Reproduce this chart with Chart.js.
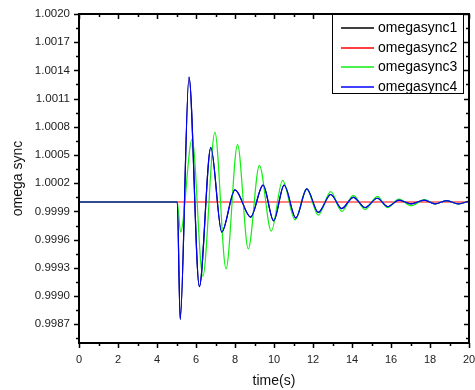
<!DOCTYPE html>
<html>
<head>
<meta charset="utf-8">
<script src="https://cdn.jsdelivr.net/npm/chart.js@4"></script>
<style>
  html, body { margin: 0; padding: 0; background: #fff; }
  #wrap { width: 475px; height: 390px; position: relative; }
</style>
</head>
<body>
<div id="wrap"><canvas id="chart"></canvas></div>
<script>
// values
const seriesNames = ['omegasync1', 'omegasync2', 'omegasync3', 'omegasync4'];
const seriesColors = ['#000000', '#ff0000', '#11ee11', '#0000ff'];

const sync4Time = [0, 5.04, 5.19, 5.64, 6.17, 6.76, 7.32, 8.0, 8.8, 9.44, 9.98, 10.52, 11.12, 11.68,
  12.27, 12.91, 13.47, 14.07, 14.67, 15.3, 15.83, 16.41, 17.03, 17.71, 18.26, 18.85, 19.45, 20];
const sync4Values = [1.0, 1.0, 0.99875, 1.00133, 0.9991, 1.00058, 0.99968, 1.00013, 0.99984, 1.00018,
  0.9998, 1.00018, 0.99983, 1.00014, 0.99989, 1.00008, 0.99993, 1.00005, 0.99994, 1.00004, 0.99995,
  1.00002, 0.99998, 1.00002, 0.99998, 1.000014, 0.99998, 1.00001];

// omegasync1 lies exactly under omegasync4
const sync1Time = sync4Time;
const sync1Values = sync4Values;

const sync2Time = [0, 20];
const sync2Values = [1.0, 1.0];

const sync3Time = [0, 5.04, 5.21, 5.8, 6.35, 6.97, 7.54, 8.13, 8.68, 9.25, 9.86, 10.44, 11.08, 11.68,
  12.27, 12.91, 13.47, 14.07, 14.67, 15.3, 15.82, 16.41, 17.03, 17.71, 18.26, 18.85, 19.45, 20];
const sync3Values = [1.0, 1.0, 0.99968, 1.00067, 0.99921, 1.00074, 0.99929, 1.00061, 0.9995, 1.00039,
  0.99969, 1.00023, 0.99981, 1.00014, 0.99986, 1.00011, 0.9999, 1.00007, 0.99992, 1.00006, 0.99994,
  1.00003, 0.99996, 1.000025, 0.99998, 1.000014, 0.99998, 1.00001];

const xMin = 0, xMax = 20;
const yMin = 0.9985, yMax = 1.002;
const yTickValues = [0.9987, 0.999, 0.9993, 0.9996, 0.9999, 1.0002, 1.0005, 1.0008, 1.0011, 1.0014, 1.0017, 1.002];

const FONT = '"Liberation Sans", Arial, sans-serif';

function toPoints(xs, ys) {
  return xs.map((x, i) => ({ x, y: ys[i] }));
}

const allTimes = [sync1Time, sync2Time, sync3Time, sync4Time];
const allValues = [sync1Values, sync2Values, sync3Values, sync4Values];

// Origin-style frame, ticks and boxed legend
const framePlugin = {
  id: 'frame',
  afterDatasetsDraw(chart) {
    const { ctx, chartArea: a, scales } = chart;
    ctx.save();
    ctx.strokeStyle = '#000';
    ctx.lineWidth = 2;
    ctx.strokeRect(a.left, a.top, a.right - a.left, a.bottom - a.top);

    ctx.lineWidth = 1.5;
    ctx.beginPath();
    scales.x.ticks.forEach(t => {
      const px = Math.round(scales.x.getPixelForValue(t.value)) + 0.5;
      const len = t.value % 2 === 0 ? 5 : 3;
      ctx.moveTo(px, a.bottom); ctx.lineTo(px, a.bottom + len);
      ctx.moveTo(px, a.top); ctx.lineTo(px, a.top + len);
    });
    const yt = scales.y.ticks.map(t => t.value);
    const minors = [yt[0] - 0.00015].concat(yt.slice(1).map((v, i) => (v + yt[i]) / 2));
    yt.forEach(v => {
      const py = Math.round(scales.y.getPixelForValue(v)) + 0.5;
      ctx.moveTo(a.left, py); ctx.lineTo(a.left - 5, py);
      ctx.moveTo(a.right, py); ctx.lineTo(a.right - 5, py);
    });
    minors.forEach(v => {
      const py = Math.round(scales.y.getPixelForValue(v)) + 0.5;
      ctx.moveTo(a.left, py); ctx.lineTo(a.left - 3, py);
      ctx.moveTo(a.right, py); ctx.lineTo(a.right - 3, py);
    });
    ctx.stroke();

    // legend box
    const bx = 332, by = a.top, bw = 131, bh = 79;
    ctx.fillStyle = '#fff';
    ctx.fillRect(bx, by, bw, bh);
    ctx.lineWidth = 1;
    ctx.strokeStyle = '#000';
    ctx.strokeRect(bx + 0.5, by + 0.5, bw, bh);
    ctx.font = '14px ' + FONT;
    ctx.textBaseline = 'middle';
    seriesNames.forEach((name, i) => {
      const ry = Math.round(by + 14 + i * 19.5);
      ctx.strokeStyle = seriesColors[i];
      ctx.lineWidth = 1.5;
      ctx.beginPath();
      ctx.moveTo(bx + 9, ry);
      ctx.lineTo(bx + 42, ry);
      ctx.stroke();
      ctx.fillStyle = '#000';
      ctx.fillText(name, bx + 46, ry);
    });
    ctx.restore();
  }
};

new Chart(document.getElementById('chart'), {
  type: 'line',
  data: {
    datasets: seriesNames.map((name, i) => ({
      label: name,
      data: toPoints(allTimes[i], allValues[i]),
      borderColor: seriesColors[i],
      borderWidth: 1.2,
      pointRadius: 0,
      cubicInterpolationMode: 'monotone',
      order: seriesNames.length - i
    }))
  },
  options: {
    responsive: true,
    maintainAspectRatio: false,
    animation: false,
    layout: { padding: { left: 0, right: 6, top: 14, bottom: 0 } },
    plugins: {
      legend: { display: false },
      tooltip: { enabled: false }
    },
    scales: {
      x: {
        type: 'linear',
        min: xMin,
        max: xMax,
        grid: { display: false, drawTicks: false },
        border: { display: false },
        ticks: {
          stepSize: 1,
          autoSkip: false,
          maxRotation: 0,
          padding: 10,
          color: '#222',
          font: { family: FONT, size: 11 },
          callback: v => (v % 2 === 0 ? String(v) : '')
        },
        title: {
          display: true,
          text: 'time(s)',
          color: '#111',
          font: { family: FONT, size: 14 },
          padding: { top: 4, bottom: 0 }
        },
        afterFit: s => { s.height = 47; s.paddingLeft = 0; s.paddingRight = 0; }
      },
      y: {
        min: yMin,
        max: yMax,
        grid: { display: false, drawTicks: false },
        border: { display: false },
        afterBuildTicks: s => { s.ticks = yTickValues.map(v => ({ value: v })); },
        ticks: {
          autoSkip: false,
          padding: 9,
          color: '#222',
          font: { family: FONT, size: 11.5 },
          callback: v => v.toFixed(4)
        },
        title: {
          display: true,
          text: 'omega sync',
          color: '#111',
          font: { family: FONT, size: 14 },
          padding: { top: 10, bottom: 0 }
        },
        afterFit: s => { s.width = 79; s.paddingTop = 0; s.paddingBottom = 0; }
      }
    }
  },
  plugins: [framePlugin]
});
</script>
</body>
</html>
